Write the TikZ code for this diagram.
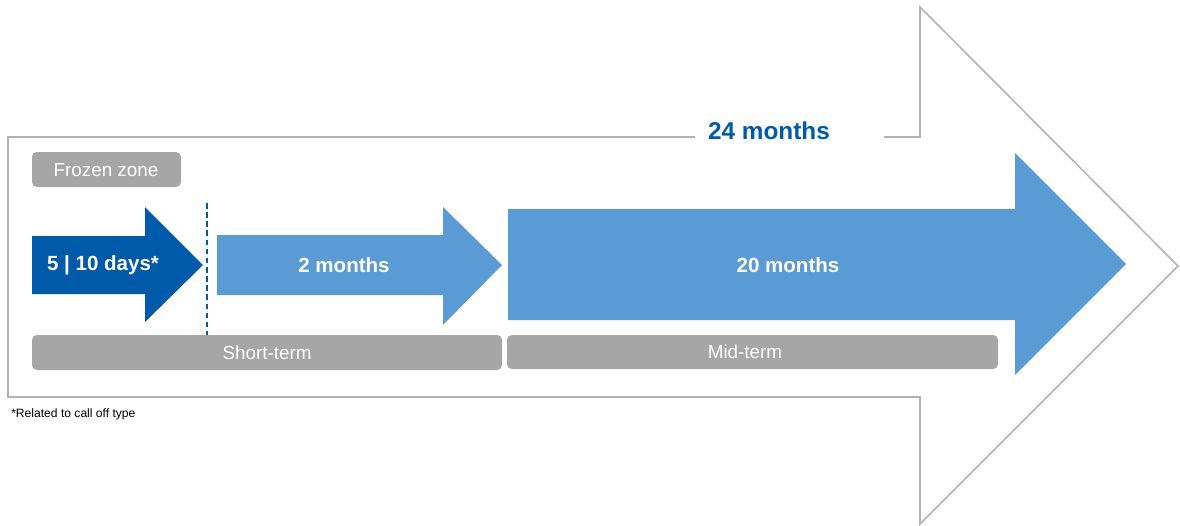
\documentclass[tikz,border=0pt]{standalone}
\usepackage{fontspec}
\setmainfont{Liberation Sans}
\definecolor{darkblue}{RGB}{0,90,170}
\definecolor{lightblue}{RGB}{91,155,213}
\definecolor{boxgrey}{RGB}{166,166,166}
\definecolor{linegrey}{RGB}{178,178,178}

\begin{document}
\begin{tikzpicture}[x=0.025cm,y=-0.025cm,
  arrow-text/.style={text=white,font=\fontsize{14.6}{16}\selectfont\bfseries},
  term-text/.style={text=white,font=\fontsize{13.4}{15}\selectfont},
  term-box/.style={fill=boxgrey,rounded corners=3.5pt}]
  \useasboundingbox (0,0) rectangle (1180,526);
  % big outline arrow, open at the label
  \draw[linegrey,line width=1.1pt,line join=miter]
    (695,137) -- (8,137) -- (8,397) -- (920,397) -- (920,524)
    -- (1178,266) -- (920,7) -- (920,137) -- (884,137);
  \node[text=darkblue,font=\fontsize{17.3}{19}\selectfont\bfseries] (T-24) at (769,131) {24 months};
  % frozen zone
  \fill[term-box] (32,152) rectangle (181,187);
  \node[term-text] (L-frozen) at (106,170) {Frozen zone};
  % arrows
  \fill[darkblue] (32,236) -- (145,236) -- (145,207) -- (203,265)
    -- (145,322) -- (145,294) -- (32,294) -- cycle;
  \node[arrow-text] (A-1) at (103,265) {5 | 10 days*};
  \fill[lightblue] (217,235) -- (443,235) -- (443,207) -- (502,265)
    -- (443,325) -- (443,295) -- (217,295) -- cycle;
  \node[arrow-text] (A-2) at (344,265) {2 months};
  \fill[lightblue] (508,209) -- (1015,209) -- (1015,153) -- (1126,264)
    -- (1015,375) -- (1015,320) -- (508,320) -- cycle;
  \node[arrow-text] (A-3) at (788,265) {20 months};
  % frozen limit
  \coordinate (F-top) at (207,203);
  \coordinate (F-bot) at (207,335);
  \draw[darkblue,line width=1pt,dash pattern=on 4pt off 2.5pt] (F-top) -- (F-bot);
  % term boxes
  \fill[term-box] (32,335) rectangle (502,370);
  \node[term-text] (L-short) at (267,353) {Short-term};
  \fill[term-box] (507,335) rectangle (998,369);
  \node[term-text] (L-mid) at (745,352) {Mid-term};
  \node[font=\fontsize{8.6}{10}\selectfont,anchor=west,inner sep=0pt] (N-1) at (11,414) {*Related to call off type};
\end{tikzpicture}
\end{document}
